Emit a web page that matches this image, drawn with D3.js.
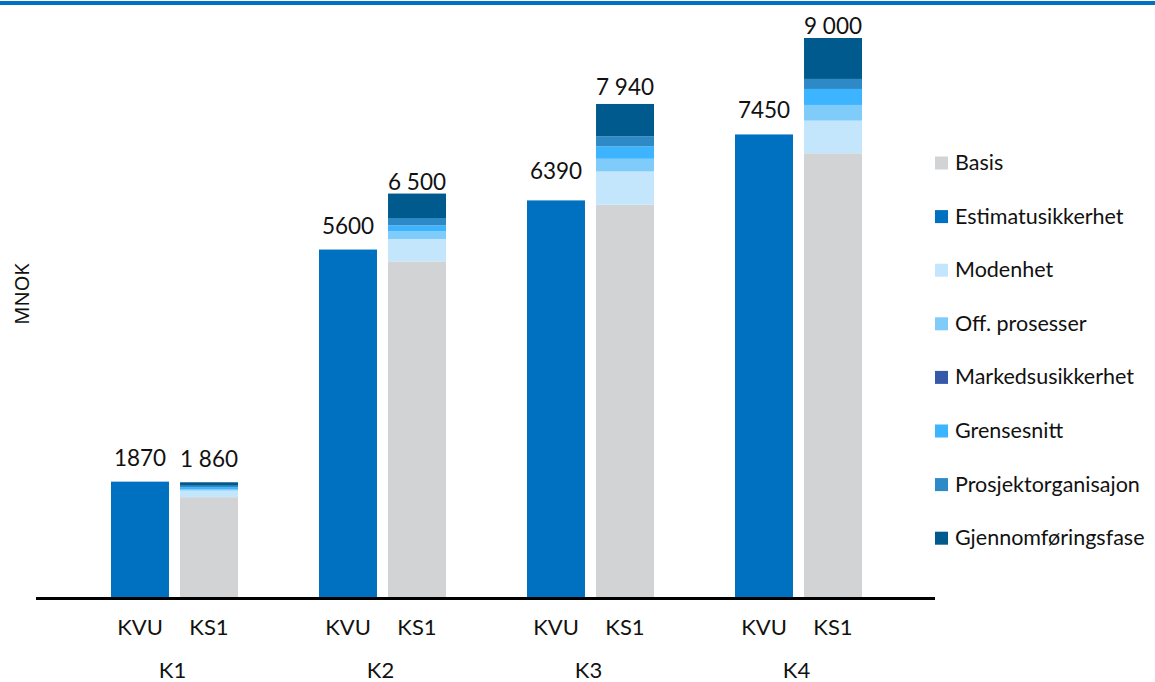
<!DOCTYPE html>
<html>
<head>
<meta charset="utf-8">
<script src="https://cdn.jsdelivr.net/npm/d3@7"></script>
<style>
  body { margin: 0; background: #fff; }
  svg { display: block; font-family: Lato, "Noto Sans", sans-serif; }
</style>
</head>
<body>
<div class="chart"></div>
<script>
// --- data
const groups = ["K1", "K2", "K3", "K4"];
const bars = ["KVU", "KS1"];
const kvuValues = [1870, 5600, 6390, 7450];
const ks1Totals = ["1 860", "6 500", "7 940", "9 000"];
const kvuLabels = ["1870", "5600", "6390", "7450"];

const seriesNames = ["Basis", "Estimatusikkerhet", "Modenhet", "Off. prosesser",
  "Markedsusikkerhet", "Grensesnitt", "Prosjektorganisajon", "Gjennomføringsfase"];
const basis = [1620, 5410, 6320, 7147];
const estimat = [0, 0, 0, 0];
const modenhet = [106, 360, 535, 525];
const offProsesser = [25, 122, 204, 252];
const markeds = [0, 0, 0, 0];
const grensesnitt = [32, 96, 198, 257];
const prosjektorg = [21, 119, 161, 161];
const gjennomforing = [56, 393, 522, 658];
const seriesColors = ["#d2d3d5", "#0070c0", "#c4e6fd", "#7fcbfa", "#3558a8", "#3db4ff", "#2e8ac6", "#005a8e"];

const yMax = 9000;

// --- svg
const width = 1155, height = 682;
const svg = d3.select(".chart").append("svg")
  .attr("width", width)
  .attr("height", height);

// top rule
svg.append("rect")
  .attr("x", 0).attr("y", 1)
  .attr("width", width).attr("height", 4)
  .attr("fill", "#0070c0");

// --- scales
const x0 = d3.scaleBand().domain(groups).range([70.5, 902.5]).paddingInner(0);
const x1 = d3.scaleBand().domain(bars).range([40.5, 167.5]).paddingInner(0.16).paddingOuter(0);
const y = d3.scaleLinear().domain([0, yMax]).range([598, 38]);

// stacked data for KS1
const ks1Rows = groups.map(function(g, i) {
  return {
    group: g,
    "Basis": basis[i],
    "Estimatusikkerhet": estimat[i],
    "Modenhet": modenhet[i],
    "Off. prosesser": offProsesser[i],
    "Markedsusikkerhet": markeds[i],
    "Grensesnitt": grensesnitt[i],
    "Prosjektorganisajon": prosjektorg[i],
    "Gjennomføringsfase": gjennomforing[i]
  };
});
const stacked = d3.stack().keys(seriesNames)(ks1Rows);
const color = d3.scaleOrdinal().domain(seriesNames).range(seriesColors);

// KVU bars
svg.append("g").selectAll("rect")
  .data(groups)
  .enter().append("rect")
  .attr("x", function(d) { return x0(d) + x1("KVU"); })
  .attr("y", function(d, i) { return y(kvuValues[i]); })
  .attr("width", x1.bandwidth())
  .attr("height", function(d, i) { return y(0) - y(kvuValues[i]); })
  .attr("fill", "#0070c0");

// KS1 stacks
svg.append("g").selectAll("g")
  .data(stacked)
  .enter().append("g")
  .attr("fill", function(d) { return color(d.key); })
  .selectAll("rect")
  .data(function(d) { return d; })
  .enter().append("rect")
  .attr("x", function(d) { return x0(d.data.group) + x1("KS1"); })
  .attr("y", function(d) { return y(d[1]); })
  .attr("width", x1.bandwidth())
  .attr("height", function(d) { return y(d[0]) - y(d[1]); });

// value labels (gap above bar top differs per label, as in the original)
const kvuGap = [16, 16, 21, 16];
const ks1Gap = [15, 4, 9, 4];

const labels = svg.append("g")
  .attr("font-size", 22.5)
  .attr("text-anchor", "middle")
  .attr("fill", "#111");

labels.selectAll(".kvu")
  .data(groups)
  .enter().append("text")
  .attr("x", function(d) { return x0(d) + x1("KVU") + x1.bandwidth() / 2; })
  .attr("y", function(d, i) { return y(kvuValues[i]) - kvuGap[i]; })
  .text(function(d, i) { return kvuLabels[i]; });

const topOf = stacked[stacked.length - 1];
labels.selectAll(".ks1")
  .data(groups)
  .enter().append("text")
  .attr("x", function(d) { return x0(d) + x1("KS1") + x1.bandwidth() / 2; })
  .attr("y", function(d, i) { return y(topOf[i][1]) - ks1Gap[i]; })
  .text(function(d, i) { return ks1Totals[i]; });

// x axis line
svg.append("line")
  .attr("x1", 36).attr("x2", 935)
  .attr("y1", y(0) + 0.5).attr("y2", y(0) + 0.5)
  .attr("stroke", "#000")
  .attr("stroke-width", 3);

// category labels
const cats = svg.append("g")
  .attr("font-size", 22)
  .attr("text-anchor", "middle")
  .attr("fill", "#111");

groups.forEach(function(g) {
  bars.forEach(function(b) {
    cats.append("text")
      .attr("x", x0(g) + x1(b) + x1.bandwidth() / 2)
      .attr("y", 635)
      .text(b);
  });
  cats.append("text")
    .attr("x", x0(g) + x0.bandwidth() / 2 - 2)
    .attr("y", 678)
    .text(g);
});

// y label
svg.append("text")
  .attr("transform", "translate(29,294) rotate(-90)")
  .attr("text-anchor", "middle")
  .attr("font-family", "'Noto Sans', sans-serif")
  .attr("font-size", 20)
  .attr("fill", "#111")
  .text("MNOK");

// --- legend
const legend = svg.append("g")
  .attr("transform", "translate(935, 163)");

const item = legend.selectAll("g")
  .data(seriesNames)
  .enter().append("g")
  .attr("transform", function(d, i) { return "translate(0," + (i * 53.6) + ")"; });

item.append("rect")
  .attr("x", 0).attr("y", -6.5)
  .attr("width", 13).attr("height", 13)
  .attr("fill", function(d) { return color(d); });

item.append("text")
  .attr("x", 20)
  .attr("y", 7)
  .attr("font-size", 21.5)
  .attr("fill", "#111")
  .text(function(d) { return d; });
</script>
</body>
</html>
